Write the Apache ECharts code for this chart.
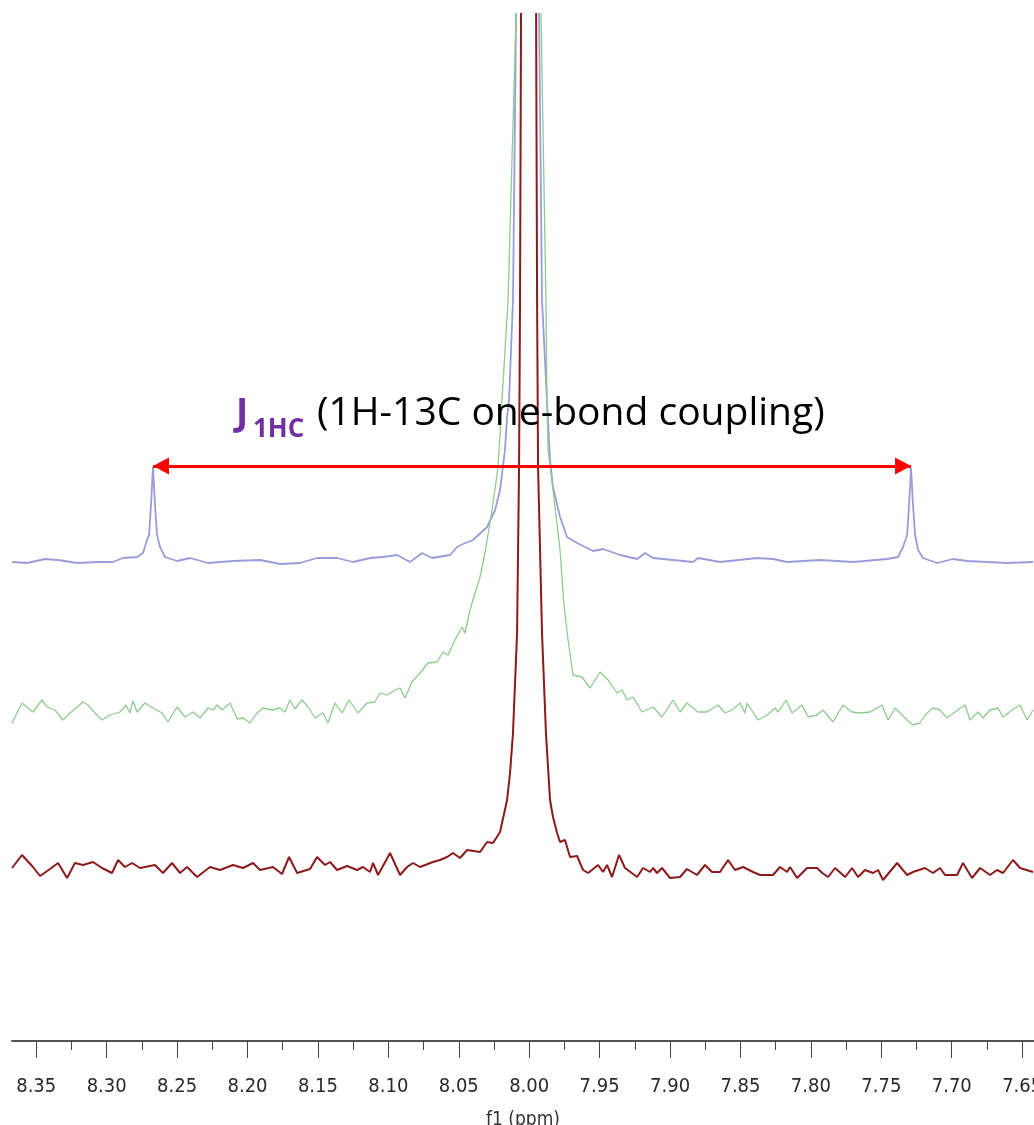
<!DOCTYPE html>
<html><head><meta charset="utf-8">
<script src="https://cdn.jsdelivr.net/npm/echarts@6/dist/echarts.min.js"></script>
<style>html,body{margin:0;padding:0;background:#fff}#c{width:1034px;height:1125px}</style>
</head><body><div id="c"></div>
<script>
// Tick labels (ppm)
const majorTicks = [8.35, 8.30, 8.25, 8.20, 8.15, 8.10, 8.05, 8.00, 7.95, 7.90, 7.85, 7.80, 7.75, 7.70, 7.65];
const minorTicks = [8.325, 8.275, 8.225, 8.175, 8.125, 8.075, 8.025, 7.975, 7.925, 7.875, 7.825, 7.775, 7.725, 7.675];

// Spectrum 1 (top, blue): [ppm, intensity]
const blueSpectrum = [
[8.3672,479],[8.3565,478],[8.3438,482],[8.3345,481],[8.3210,478],[8.3068,479],[8.2955,479],[8.2884,483],[8.2784,484],[8.2742,488],
[8.2713,501],[8.2699,506],[8.2685,536],[8.2671,574],[8.2657,536],[8.2642,506],[8.2621,494],[8.2586,484],[8.2500,480],[8.2408,483],
[8.2280,478],[8.2103,480],[8.1911,481],[8.1769,477],[8.1627,478],[8.1506,483],[8.1364,483],[8.1251,479],[8.1130,483],[8.1038,484],
[8.0938,486],[8.0846,479],[8.0761,488],[8.0690,483],[8.0562,486],[8.0512,494],[8.0470,497],[8.0399,501],[8.0299,514],[8.0242,531],
[8.0207,551],[8.0172,591],[8.0157,624],[8.0143,641],[8.0115,741],[8.0093,1027],[8.0008,2500],[7.9930,1027],[7.9909,741],[7.9874,641],
[7.9852,581],[7.9831,554],[7.9781,524],[7.9731,504],[7.9660,498],[7.9547,490],[7.9476,492],[7.9355,486],[7.9234,482],[7.9177,488],
[7.9121,483],[7.8837,479],[7.8801,483],[7.8645,479],[7.8382,483],[7.8269,482],[7.8169,479],[7.7935,481],[7.7701,479],[7.7460,482],
[7.7381,484],[7.7346,494],[7.7317,506],[7.7303,536],[7.7289,573],[7.7275,536],[7.7260,506],[7.7239,491],[7.7204,483],[7.7104,478],
[7.6991,482],[7.6892,480],[7.6750,479],[7.6607,478],[7.6423,479]
];

// Spectrum 2 (middle, green): [ppm, intensity]
const greenSpectrum = [
[8.3672,318],[8.3601,338],[8.3523,329],[8.3459,341],[8.3423,334],[8.3367,331],[8.3310,321],[8.3260,328],[8.3210,334],[8.3168,339],
[8.3132,336],[8.3083,328],[8.3033,321],[8.2976,326],[8.2905,329],[8.2862,336],[8.2834,328],[8.2813,340],[8.2784,329],[8.2728,338],
[8.2671,333],[8.2607,328],[8.2564,319],[8.2500,334],[8.2444,324],[8.2387,329],[8.2337,323],[8.2280,333],[8.2245,331],[8.2216,336],
[8.2181,331],[8.2124,338],[8.2074,322],[8.2032,323],[8.1982,318],[8.1932,328],[8.1890,333],[8.1826,331],[8.1769,333],[8.1734,329],
[8.1698,341],[8.1663,332],[8.1613,341],[8.1570,334],[8.1520,323],[8.1464,328],[8.1429,318],[8.1379,338],[8.1329,328],[8.1279,341],
[8.1215,328],[8.1151,338],[8.1095,339],[8.1059,348],[8.1010,346],[8.0952,351],[8.0917,353],[8.0881,343],[8.0832,359],[8.0775,368],
[8.0719,378],[8.0654,379],[8.0612,389],[8.0576,386],[8.0527,401],[8.0477,414],[8.0456,408],[8.0420,431],[8.0385,448],[8.0349,464],
[8.0314,488],[8.0264,531],[8.0221,574],[8.0193,641],[8.0150,741],[8.0093,1027],[8.0008,1500],[7.9916,1027],[7.9881,741],[7.9874,641],
[7.9866,591],[7.9831,551],[7.9781,491],[7.9753,436],[7.9724,401],[7.9689,366],[7.9625,364],[7.9568,353],[7.9497,369],[7.9440,361],
[7.9376,348],[7.9341,351],[7.9305,341],[7.9263,344],[7.9199,329],[7.9121,334],[7.9057,324],[7.8979,341],[7.8929,329],[7.8880,338],
[7.8801,329],[7.8738,329],[7.8659,336],[7.8610,328],[7.8560,331],[7.8503,338],[7.8468,328],[7.8454,338],[7.8375,321],[7.8311,326],
[7.8254,333],[7.8233,329],[7.8176,341],[7.8134,328],[7.8063,336],[7.8020,324],[7.7956,326],[7.7914,331],[7.7843,319],[7.7772,336],
[7.7708,329],[7.7651,328],[7.7580,329],[7.7495,336],[7.7452,321],[7.7402,333],[7.7317,321],[7.7275,316],[7.7225,318],[7.7190,326],
[7.7133,333],[7.7083,331],[7.7034,323],[7.6977,329],[7.6906,336],[7.6870,321],[7.6813,329],[7.6778,323],[7.6728,331],[7.6671,333],
[7.6636,324],[7.6572,331],[7.6515,336],[7.6465,321],[7.6423,331]
];

// Spectrum 3 (bottom, dark red): [ppm, intensity]
const redSpectrum = [
[8.3672,173],[8.3601,186],[8.3523,174],[8.3473,165],[8.3402,172],[8.3345,178],[8.3281,163],[8.3225,178],[8.3168,176],[8.3097,179],
[8.3033,173],[8.2962,168],[8.2919,181],[8.2870,174],[8.2820,178],[8.2763,173],[8.2657,176],[8.2600,168],[8.2536,178],[8.2479,168],
[8.2429,174],[8.2358,164],[8.2266,174],[8.2195,171],[8.2103,176],[8.2032,173],[8.1961,178],[8.1911,171],[8.1819,174],[8.1755,167],
[8.1705,184],[8.1648,168],[8.1556,172],[8.1506,184],[8.1450,176],[8.1414,179],[8.1364,171],[8.1293,175],[8.1222,171],[8.1180,174],
[8.1130,169],[8.1109,178],[8.1073,166],[8.0988,188],[8.0917,166],[8.0867,174],[8.0825,178],[8.0775,174],[8.0683,179],[8.0633,181],
[8.0583,184],[8.0541,188],[8.0491,183],[8.0441,191],[8.0349,189],[8.0299,199],[8.0257,198],[8.0207,209],[8.0157,241],[8.0136,268],
[8.0115,308],[8.0086,408],[8.0072,574],[8.0065,741],[8.0058,1027],[8.0005,3000],[7.9951,1027],[7.9944,741],[7.9937,574],[7.9909,408],
[7.9881,308],[7.9852,241],[7.9831,224],[7.9802,208],[7.9781,199],[7.9746,201],[7.9710,184],[7.9660,185],[7.9618,171],[7.9582,168],
[7.9511,176],[7.9476,169],[7.9447,176],[7.9412,164],[7.9362,186],[7.9320,173],[7.9234,164],[7.9192,173],[7.9142,169],[7.9121,173],
[7.9092,168],[7.9057,173],[7.9000,163],[7.8929,164],[7.8880,172],[7.8809,166],[7.8752,176],[7.8702,169],[7.8645,169],[7.8588,181],
[7.8539,171],[7.8482,174],[7.8411,169],[7.8361,166],[7.8269,166],[7.8219,174],[7.8169,169],[7.8148,174],[7.8098,163],[7.8027,173],
[7.7956,173],[7.7919,168],[7.7878,164],[7.7828,173],[7.7757,164],[7.7708,173],[7.7665,164],[7.7616,171],[7.7559,168],[7.7523,171],
[7.7488,161],[7.7388,178],[7.7317,166],[7.7275,169],[7.7190,173],[7.7133,168],[7.7083,173],[7.7048,166],[7.6962,166],[7.6920,178],
[7.6856,163],[7.6799,173],[7.6728,166],[7.6679,171],[7.6636,168],[7.6565,181],[7.6515,173],[7.6423,169]
];

// 13C satellite positions (ppm) joined by the coupling arrow, and arrow level
const satellitePeaks = [8.2671, 7.7289];
const arrowLevel = 575;

const labelFont = '"Liberation Sans Narrow","DejaVu Sans Condensed","Roboto Condensed","Liberation Sans",sans-serif';

const chart = echarts.init(document.getElementById('c'), null, {renderer: 'canvas'});
const xBase = {
  type: 'value', inverse: true, min: 7.6416, max: 8.3672,
  splitLine: {show: false}
};
chart.setOption({
  animation: false,
  backgroundColor: '#ffffff',
  grid: {left: 12, right: 0, top: 14, bottom: 84, containLabel: false, outerBoundsMode: 'none'},
  xAxis: [
    Object.assign({}, xBase, {
      position: 'bottom',
      name: 'f1 (ppm)', nameLocation: 'middle', nameGap: 70,
      nameTextStyle: {fontFamily: labelFont, fontSize: 19, color: '#333'},
      axisLine: {show: true, lineStyle: {color: '#555', width: 2}},
      axisTick: {show: true, length: 17, lineStyle: {color: '#444', width: 1}, customValues: majorTicks},
      axisLabel: {show: true, margin: 36, fontFamily: labelFont, fontSize: 20, color: '#2a2a2a',
        hideOverlap: false, showMinLabel: true, showMaxLabel: true,
        customValues: majorTicks, formatter: v => v.toFixed(2)}
    }),
    Object.assign({}, xBase, {
      position: 'bottom',
      axisLine: {show: false},
      axisTick: {show: true, length: 9, lineStyle: {color: '#444', width: 1}, customValues: minorTicks},
      axisLabel: {show: false}
    })
  ],
  yAxis: {type: 'value', min: 0, max: 1027, show: false, splitLine: {show: false}},
  series: [
    {
      name: 'spectrum 1', type: 'line', xAxisIndex: 0, data: blueSpectrum,
      showSymbol: false, clip: true, z: 2,
      lineStyle: {color: '#8a8ad2', width: 1.8, opacity: 0.85},
      markLine: {
        silent: true, symbol: ['triangle', 'triangle'], symbolSize: [17, 16],
        symbolOffset: [[0, 8], [0, 8]],
        label: {show: false},
        lineStyle: {color: '#ff0000', width: 3, type: 'solid'},
        emphasis: {disabled: true},
        data: [[{coord: [satellitePeaks[0], arrowLevel]}, {coord: [satellitePeaks[1], arrowLevel]}]]
      }
    },
    {
      name: 'spectrum 2', type: 'line', xAxisIndex: 0, data: greenSpectrum,
      showSymbol: false, clip: true, z: 3,
      lineStyle: {color: '#8fcb8f', width: 1.3}
    },
    {
      name: 'spectrum 3', type: 'line', xAxisIndex: 0, data: redSpectrum,
      showSymbol: false, clip: true, z: 4,
      lineStyle: {color: '#8b1a1a', width: 2}
    }
  ],
  graphic: [
    {type: 'text', left: 236, top: 396, z: 10,
      style: {text: 'J', font: 'bold 37px "Open Sans", sans-serif', fill: '#7030A0'}},
    {type: 'text', left: 253, top: 417, z: 10,
      style: {text: '1HC', font: 'bold 26px "Open Sans", sans-serif', fill: '#7030A0'}},
    {type: 'text', left: 317, top: 394, z: 10,
      style: {text: '(1H-13C one-bond coupling)', font: '39px "Open Sans", sans-serif', fill: '#000000'}}
  ]
});
</script>
</body></html>
